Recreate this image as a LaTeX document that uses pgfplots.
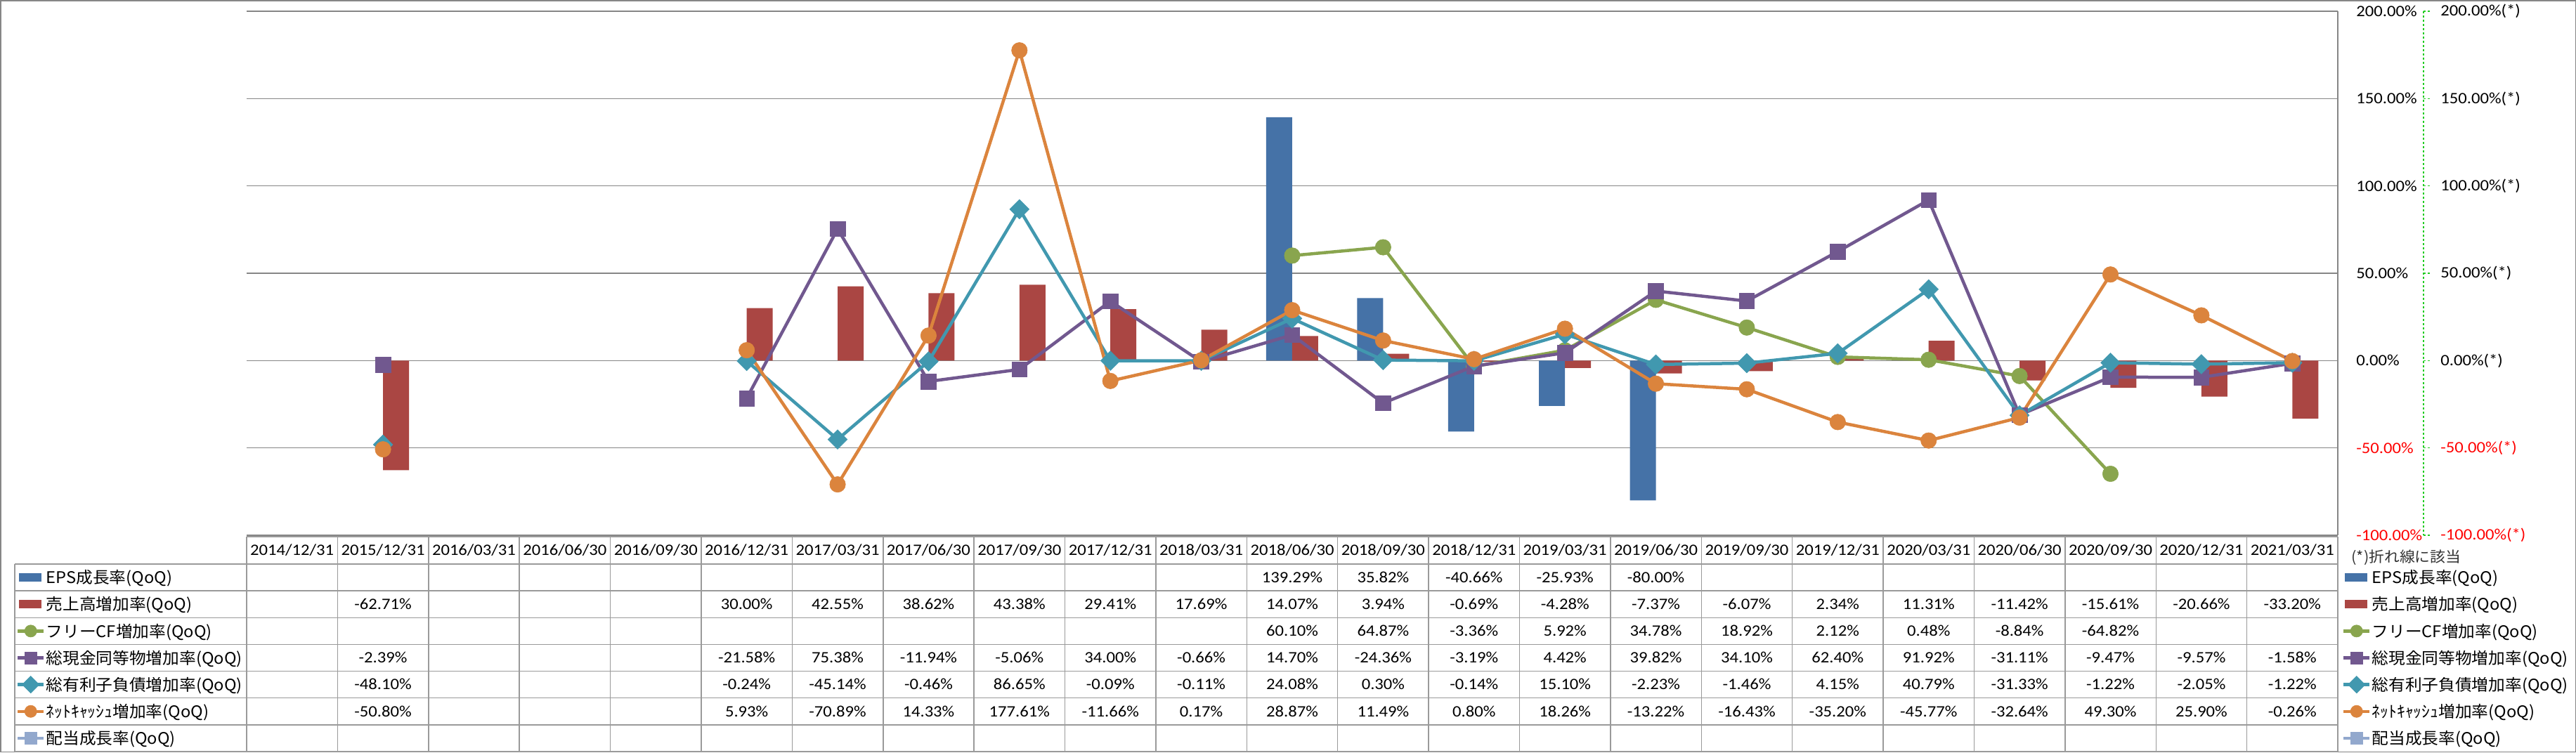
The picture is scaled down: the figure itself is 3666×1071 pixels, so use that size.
\documentclass[border=0pt]{standalone}
\usepackage{fontspec}
\setmainfont{Noto Sans CJK JP}
\newfontfamily\legfont{Noto Sans CJK JP}[FakeStretch=1.04]
\newfontfamily\numfont{Carlito}[FakeStretch=1.09]
\usepackage{pgfplots}
\pgfplotsset{compat=1.18}
\definecolor{cEPS}{HTML}{4572A7}
\definecolor{cSales}{HTML}{AA4643}
\definecolor{cFCF}{HTML}{89A54E}
\definecolor{cCash}{HTML}{71588F}
\definecolor{cDebt}{HTML}{4198AF}
\definecolor{cNet}{HTML}{DB843D}
\definecolor{cDiv}{HTML}{92A8CD}
\definecolor{gridc}{HTML}{868686}
\definecolor{tabc}{HTML}{9A9A9A}
\definecolor{gline}{HTML}{22CC22}
\newcommand\tfont{\numfont\fontsize{11.3}{13}\selectfont}
\newcommand\afont{\numfont\fontsize{11.3}{13}\selectfont}
\newcommand\lfont{\legfont\fontsize{11.4}{13}\selectfont}
\pgfplotsset{
  barlegend/.style={legend image code/.code={\fill[##1] (1pt,-3pt) rectangle (17pt,3pt);}},
  linelegend/.style={legend image code/.code={\draw[mark repeat=2,mark phase=2,##1] plot coordinates {(0pt,0pt) (9.25pt,0pt) (18.5pt,0pt)};}},
  mylegend/.style={legend cell align=left, legend style={at={#1}, anchor=north west, draw=none, fill=none, inner sep=0pt, outer sep=0pt, row sep=0pt, column sep=0.6pt, font=\lfont, nodes={inner sep=0pt, outer sep=0pt, text height=13.9pt, text depth=5.17pt}}},
  frame/.style={at={(175.5pt,-381pt)}, anchor=south west, scale only axis, width=1488pt, height=373pt, xmin=-0.5, xmax=22.5, ymin=-100, ymax=200, clip=false},
  sFCF/.style={cFCF, line width=2.25pt, mark=*, mark size=5.6pt, mark options={solid, fill=cFCF, draw=cFCF, line width=0.3pt}},
  sCash/.style={cCash, line width=2.25pt, mark=square*, mark size=5.4pt, mark options={solid, fill=cCash, draw=cCash, line width=0.3pt}},
  sDebt/.style={cDebt, line width=2.25pt, mark=square*, mark size=4.9pt, mark options={solid, rotate=45, fill=cDebt, draw=cDebt, line width=0.3pt}},
  sNet/.style={cNet, line width=2.25pt, mark=*, mark size=5.6pt, mark options={solid, fill=cNet, draw=cNet, line width=0.3pt}},
  sDiv/.style={cDiv, line width=2.25pt, mark=square*, mark size=5.4pt, mark options={solid, fill=cDiv, draw=cDiv, line width=0.3pt}},
}
\newcommand\tabrow[2]{\foreach \i/\v in {#2} {\node[anchor=base, inner sep=0pt, font=\tfont] at ({351+129.391*(\i+0.5)},{803+38.143*(#1-0.5)+7.2}) {\v};}}
\begin{document}
\begin{tikzpicture}
\begin{scope}[x=0.5pt,y=-0.5pt]
\path[use as bounding box] (0,0) rectangle (3666,1071);
\end{scope}
\begin{axis}[frame,
  axis x line=none, axis y line*=right,
  y axis line style={draw=gridc, line width=0.75pt},
  ytick={-100,-50,0,50,100,150,200},
  yticklabels={{\textcolor{red}{-100.00\%}},{\textcolor{red}{-50.00\%}},{0.00\%},{50.00\%},{100.00\%},{150.00\%},{200.00\%}},
  yticklabel style={font=\afont, anchor=west, inner sep=0pt, xshift=13pt},
  major tick length=0pt,
  ymajorgrids=true,
  major grid style={draw=gridc, line width=0.75pt},
  unbounded coords=jump,
  linelegend,
  legend image post style={mark size=4.3pt},
  mylegend={(-0.110215,-0.05496)},
]
\addplot[ybar, bar width=18.5pt, bar shift=-9.25pt, fill=cEPS, draw=none, barlegend] coordinates {(11,139.29) (12,35.82) (13,-40.66) (14,-25.93) (15,-80.00)};
\addlegendentry{EPS成長率(QoQ)}
\addplot[ybar, bar width=18.5pt, bar shift=9.25pt, fill=cSales, draw=none, barlegend] coordinates {(1,-62.71) (5,30.00) (6,42.55) (7,38.62) (8,43.38) (9,29.41) (10,17.69) (11,14.07) (12,3.94) (13,-0.69) (14,-4.28) (15,-7.37) (16,-6.07) (17,2.34) (18,11.31) (19,-11.42) (20,-15.61) (21,-20.66) (22,-33.20)};
\addlegendentry{売上高増加率(QoQ)}
\addplot[sFCF] coordinates {(11,60.10) (12,64.87) (13,-3.36) (14,5.92) (15,34.78) (16,18.92) (17,2.12) (18,0.48) (19,-8.84) (20,-64.82)};
\addlegendentry{フリーCF増加率(QoQ)}
\addplot[sCash] coordinates {(1,-2.39) (3,nan) (5,-21.58) (6,75.38) (7,-11.94) (8,-5.06) (9,34.00) (10,-0.66) (11,14.70) (12,-24.36) (13,-3.19) (14,4.42) (15,39.82) (16,34.10) (17,62.40) (18,91.92) (19,-31.11) (20,-9.47) (21,-9.57) (22,-1.58)};
\addlegendentry{総現金同等物増加率(QoQ)}
\addplot[sDebt] coordinates {(1,-48.10) (3,nan) (5,-0.24) (6,-45.14) (7,-0.46) (8,86.65) (9,-0.09) (10,-0.11) (11,24.08) (12,0.30) (13,-0.14) (14,15.10) (15,-2.23) (16,-1.46) (17,4.15) (18,40.79) (19,-31.33) (20,-1.22) (21,-2.05) (22,-1.22)};
\addlegendentry{総有利子負債増加率(QoQ)}
\addplot[sNet] coordinates {(1,-50.80) (3,nan) (5,5.93) (6,-70.89) (7,14.33) (8,177.61) (9,-11.66) (10,0.17) (11,28.87) (12,11.49) (13,0.80) (14,18.26) (15,-13.22) (16,-16.43) (17,-35.20) (18,-45.77) (19,-32.64) (20,49.30) (21,25.90) (22,-0.26)};
\addlegendentry{ﾈｯﾄｷｬｯｼｭ増加率(QoQ)}
\addlegendimage{sDiv}
\addlegendentry{配当成長率(QoQ)}
\end{axis}
\begin{axis}[frame, hide axis, linelegend,
  legend image post style={mark size=4.3pt},
  mylegend={(1.002016,-0.05496)}]
\addlegendimage{barlegend, fill=cEPS, draw=none}
\addlegendentry{EPS成長率(QoQ)}
\addlegendimage{barlegend, fill=cSales, draw=none}
\addlegendentry{売上高増加率(QoQ)}
\addlegendimage{sFCF}
\addlegendentry{フリーCF増加率(QoQ)}
\addlegendimage{sCash}
\addlegendentry{総現金同等物増加率(QoQ)}
\addlegendimage{sDebt}
\addlegendentry{総有利子負債増加率(QoQ)}
\addlegendimage{sNet}
\addlegendentry{ﾈｯﾄｷｬｯｼｭ増加率(QoQ)}
\addlegendimage{sDiv}
\addlegendentry{配当成長率(QoQ)}
\end{axis}
\begin{scope}[x=0.5pt,y=-0.5pt]
% outer border
\draw[gridc, line width=0.75pt] (0.75,0.75) rectangle (3665.25,1070.25);
% secondary axis (line series)
\draw[gline, line width=0.6pt, dash pattern=on 1.65pt off 1.35pt] (3449,16) -- (3449,762);
\foreach \v in {-100,-50,0,50,100,150,200} {\draw[gline, line width=0.6pt, dash pattern=on 1.65pt off 1.35pt] (3449,{762-(\v+100)*2.486667}) -- (3458,{762-(\v+100)*2.486667});}
\foreach \v/\t/\c in {200/200.00\%(*)/black,150/150.00\%(*)/black,100/100.00\%(*)/black,50/50.00\%(*)/black,0/0.00\%(*)/black,-50/-50.00\%(*)/red,-100/-100.00\%(*)/red} {\node[anchor=west, inner sep=0pt, text=\c, font=\afont] at (3473,{762-(\v+100)*2.486667}) {\t};}
\node[anchor=west, inner sep=0pt, font=\legfont\fontsize{10.5}{12}\selectfont, text=black!80] at (3346,794) {(*)折れ線に該当};
% table grid
\draw[tabc, line width=0.75pt] (351,764) -- (3327,764);
\foreach \k in {0,...,7} {\draw[tabc, line width=0.75pt] (21,{803+38.143*\k}) -- (3327,{803+38.143*\k});}
\foreach \k in {0,...,23} {\draw[tabc, line width=0.75pt] ({351+129.391*\k},764) -- ({351+129.391*\k},1070);}
\draw[tabc, line width=0.75pt] (21,803) -- (21,1070);
% header
\foreach \d [count=\i from 0] in {2014/12/31,2015/12/31,2016/03/31,2016/06/30,2016/09/30,2016/12/31,2017/03/31,2017/06/30,2017/09/30,2017/12/31,2018/03/31,2018/06/30,2018/09/30,2018/12/31,2019/03/31,2019/06/30,2019/09/30,2019/12/31,2020/03/31,2020/06/30,2020/09/30,2020/12/31,2021/03/31} {\node[anchor=base, inner sep=0pt, font=\tfont] at ({351+129.391*(\i+0.5)},790.7) {\d};}
% rows
\tabrow{1}{11/139.29\%,12/35.82\%,13/-40.66\%,14/-25.93\%,15/-80.00\%}
\tabrow{2}{1/-62.71\%,5/30.00\%,6/42.55\%,7/38.62\%,8/43.38\%,9/29.41\%,10/17.69\%,11/14.07\%,12/3.94\%,13/-0.69\%,14/-4.28\%,15/-7.37\%,16/-6.07\%,17/2.34\%,18/11.31\%,19/-11.42\%,20/-15.61\%,21/-20.66\%,22/-33.20\%}
\tabrow{3}{11/60.10\%,12/64.87\%,13/-3.36\%,14/5.92\%,15/34.78\%,16/18.92\%,17/2.12\%,18/0.48\%,19/-8.84\%,20/-64.82\%}
\tabrow{4}{1/-2.39\%,5/-21.58\%,6/75.38\%,7/-11.94\%,8/-5.06\%,9/34.00\%,10/-0.66\%,11/14.70\%,12/-24.36\%,13/-3.19\%,14/4.42\%,15/39.82\%,16/34.10\%,17/62.40\%,18/91.92\%,19/-31.11\%,20/-9.47\%,21/-9.57\%,22/-1.58\%}
\tabrow{5}{1/-48.10\%,5/-0.24\%,6/-45.14\%,7/-0.46\%,8/86.65\%,9/-0.09\%,10/-0.11\%,11/24.08\%,12/0.30\%,13/-0.14\%,14/15.10\%,15/-2.23\%,16/-1.46\%,17/4.15\%,18/40.79\%,19/-31.33\%,20/-1.22\%,21/-2.05\%,22/-1.22\%}
\tabrow{6}{1/-50.80\%,5/5.93\%,6/-70.89\%,7/14.33\%,8/177.61\%,9/-11.66\%,10/0.17\%,11/28.87\%,12/11.49\%,13/0.80\%,14/18.26\%,15/-13.22\%,16/-16.43\%,17/-35.20\%,18/-45.77\%,19/-32.64\%,20/49.30\%,21/25.90\%,22/-0.26\%}
\end{scope}
\end{tikzpicture}
\end{document}
